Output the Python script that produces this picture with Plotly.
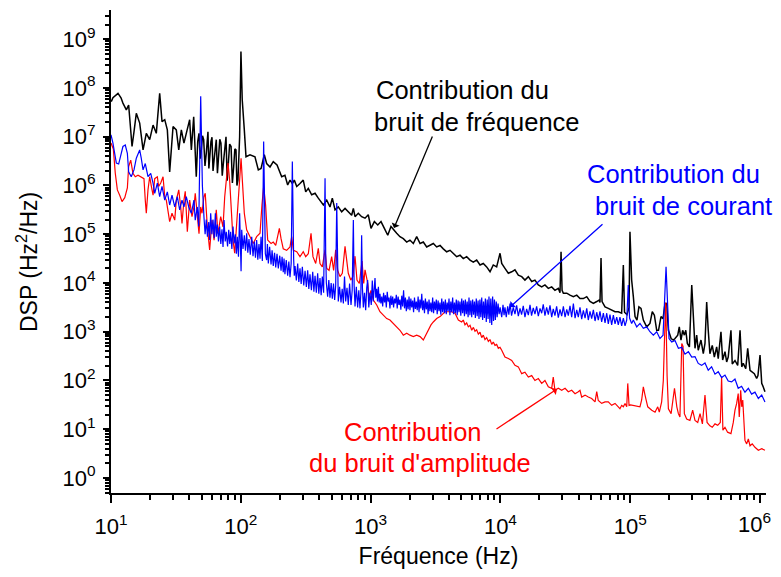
import numpy as np
import plotly.graph_objects as go

# ==============================================================================
# DONNÉES : (log10 fréquence [Hz], log10 DSP [Hz²/Hz])
# ==============================================================================
noir = [
    (1.002, 7.72), (1.015, 7.80), (1.054, 7.89), (1.077, 7.80), (1.092, 7.69), (1.118, 7.55),
    (1.136, 7.65), (1.162, 6.80), (1.177, 7.10), (1.195, 7.48), (1.221, 7.28), (1.247, 6.73),
    (1.272, 7.07), (1.298, 6.94), (1.324, 7.24), (1.349, 7.07), (1.375, 7.89), (1.393, 7.31),
    (1.414, 7.35), (1.434, 7.14), (1.452, 6.28), (1.478, 7.21), (1.503, 7.14), (1.522, 6.73),
    (1.542, 7.14), (1.562, 6.87), (1.580, 7.07), (1.606, 7.35), (1.619, 6.73), (1.637, 7.41),
    (1.657, 6.18), (1.668, 6.90), (1.678, 7.07), (1.687, 6.55), (1.696, 6.73), (1.705, 7.02),
    (1.714, 6.94), (1.724, 6.40), (1.734, 6.66), (1.747, 7.10), (1.754, 6.35), (1.760, 6.59),
    (1.770, 6.90), (1.778, 6.99), (1.786, 6.30), (1.794, 6.52), (1.803, 6.85), (1.811, 6.94),
    (1.820, 6.25), (1.830, 6.66), (1.838, 6.95), (1.847, 6.87), (1.857, 6.20), (1.868, 6.52),
    (1.877, 6.80), (1.886, 7.00), (1.895, 6.10), (1.904, 6.45), (1.914, 6.85), (1.925, 6.80),
    (1.935, 6.05), (1.945, 6.38), (1.954, 6.75), (1.963, 6.73), (1.970, 6.00), (1.978, 6.11),
    (1.985, 6.60), (1.991, 7.00), (2.001, 8.75), (2.011, 7.76), (2.027, 7.14), (2.040, 6.59),
    (2.071, 6.63), (2.109, 6.59), (2.135, 6.32), (2.156, 6.35), (2.181, 6.63), (2.199, 6.45),
    (2.225, 6.38), (2.250, 6.49), (2.279, 6.42), (2.315, 6.18), (2.340, 6.21), (2.361, 6.01),
    (2.379, 6.11), (2.397, 6.04), (2.412, 6.11), (2.431, 5.98), (2.456, 6.04), (2.481, 6.11),
    (2.500, 5.87), (2.520, 5.94), (2.546, 5.81), (2.572, 5.84), (2.597, 5.74), (2.618, 5.67),
    (2.636, 5.60), (2.662, 5.70), (2.687, 5.56), (2.705, 5.74), (2.726, 5.50), (2.751, 5.56),
    (2.777, 5.46), (2.803, 5.53), (2.828, 5.46), (2.854, 5.39), (2.867, 5.53), (2.880, 5.36),
    (2.905, 5.43), (2.931, 5.36), (2.957, 5.33), (2.982, 5.40), (3.003, 5.12), (3.029, 5.26),
    (3.055, 5.19), (3.080, 5.26), (3.106, 5.12), (3.132, 4.98), (3.157, 5.16), (3.183, 5.09),
    (3.201, 5.02), (3.226, 4.95), (3.252, 4.91), (3.278, 4.84), (3.303, 4.88), (3.329, 4.81),
    (3.355, 4.95), (3.381, 4.81), (3.406, 4.84), (3.432, 4.74), (3.458, 4.77), (3.483, 4.81),
    (3.509, 4.74), (3.535, 4.77), (3.560, 4.70), (3.586, 4.64), (3.612, 4.67), (3.637, 4.60),
    (3.663, 4.54), (3.689, 4.57), (3.714, 4.50), (3.740, 4.54), (3.766, 4.47), (3.791, 4.43),
    (3.817, 4.47), (3.843, 4.37), (3.868, 4.40), (3.894, 4.33), (3.920, 4.23), (3.945, 4.37),
    (3.971, 4.33), (3.997, 4.61), (4.010, 4.40), (4.035, 4.30), (4.061, 4.20), (4.087, 4.23),
    (4.112, 4.27), (4.138, 4.16), (4.164, 4.13), (4.189, 4.06), (4.215, 4.13), (4.241, 4.03),
    (4.266, 4.06), (4.292, 3.96), (4.318, 3.92), (4.343, 3.96), (4.369, 3.89), (4.395, 3.92),
    (4.420, 3.85), (4.446, 3.89), (4.459, 3.80), (4.467, 4.64), (4.475, 3.85), (4.485, 3.79),
    (4.511, 3.79), (4.536, 3.75), (4.562, 3.72), (4.588, 3.75), (4.613, 3.68), (4.639, 3.68),
    (4.665, 3.72), (4.690, 3.62), (4.716, 3.58), (4.742, 3.62), (4.760, 3.65), (4.767, 3.60),
    (4.775, 4.51), (4.783, 3.62), (4.806, 3.51), (4.831, 3.48), (4.857, 3.44), (4.883, 3.41),
    (4.908, 3.41), (4.934, 3.38), (4.947, 4.37), (4.956, 3.40), (4.975, 3.35), (4.991, 3.50),
    (4.998, 5.05), (5.011, 4.06), (5.024, 3.72), (5.037, 3.31), (5.052, 3.24), (5.067, 3.51),
    (5.083, 3.48), (5.101, 3.24), (5.127, 3.10), (5.152, 3.17), (5.170, 3.41), (5.186, 3.34),
    (5.204, 3.03), (5.218, 3.03), (5.237, 3.31), (5.253, 3.27), (5.268, 3.58), (5.281, 3.58),
    (5.294, 3.03), (5.315, 2.86), (5.332, 2.83), (5.345, 2.86), (5.366, 2.93), (5.378, 3.10),
    (5.391, 2.83), (5.404, 3.03), (5.417, 2.93), (5.428, 3.03), (5.440, 2.76), (5.456, 2.69),
    (5.474, 3.96), (5.486, 3.27), (5.499, 2.66), (5.512, 2.93), (5.524, 2.62), (5.545, 2.83),
    (5.563, 2.55), (5.576, 2.76), (5.589, 3.61), (5.601, 3.03), (5.614, 2.55), (5.632, 2.72),
    (5.648, 2.48), (5.666, 2.69), (5.678, 2.45), (5.699, 3.00), (5.712, 2.42), (5.730, 2.59),
    (5.743, 2.38), (5.755, 2.48), (5.776, 3.03), (5.786, 2.34), (5.807, 2.41), (5.828, 2.31),
    (5.846, 3.03), (5.859, 2.28), (5.871, 2.35), (5.890, 2.24), (5.905, 2.66), (5.923, 2.21),
    (5.940, 2.18), (5.956, 2.14), (5.974, 2.04), (5.984, 2.10), (6.000, 2.52), (6.013, 1.94),
    (6.023, 1.88), (6.038, 1.77),
]

bleu = [
    (1.000, 7.04), (1.015, 6.87), (1.041, 6.46), (1.059, 6.44), (1.092, 6.80), (1.110, 6.83),
    (1.126, 6.66), (1.136, 6.28), (1.156, 6.18), (1.177, 6.32), (1.195, 6.56), (1.221, 6.73),
    (1.233, 6.56), (1.247, 6.32), (1.264, 6.45), (1.285, 6.18), (1.306, 6.25), (1.324, 6.05),
    (1.337, 5.84), (1.357, 6.05), (1.375, 5.77), (1.393, 5.98), (1.414, 5.70), (1.434, 5.87),
    (1.452, 5.60), (1.470, 5.80), (1.491, 5.56), (1.511, 5.77), (1.529, 5.50), (1.547, 5.70),
    (1.562, 5.56), (1.580, 5.77), (1.599, 5.56), (1.619, 5.43), (1.639, 5.70), (1.649, 5.29),
    (1.665, 5.56), (1.676, 5.16), (1.691, 7.83), (1.704, 6.00), (1.716, 5.36), (1.725, 5.00),
    (1.734, 5.30), (1.743, 4.95), (1.753, 5.25), (1.760, 4.88), (1.768, 5.43), (1.777, 5.00),
    (1.786, 5.30), (1.795, 4.92), (1.804, 5.43), (1.811, 4.95), (1.819, 5.20), (1.828, 4.85),
    (1.837, 5.16), (1.846, 4.80), (1.855, 5.10), (1.863, 4.74), (1.871, 5.29), (1.880, 4.85),
    (1.888, 5.05), (1.898, 4.75), (1.907, 5.09), (1.915, 4.80), (1.922, 5.05), (1.931, 4.70),
    (1.940, 5.16), (1.949, 4.81), (1.958, 5.00), (1.966, 4.60), (1.973, 4.95), (1.982, 4.54),
    (1.991, 5.43), (1.997, 4.60), (2.002, 4.24), (2.007, 5.09), (2.017, 4.70), (2.027, 4.98),
    (2.036, 4.66), (2.045, 5.02), (2.054, 4.62), (2.063, 4.90), (2.073, 4.58), (2.084, 4.95),
    (2.094, 4.55), (2.104, 4.85), (2.113, 4.52), (2.122, 4.88), (2.131, 4.48), (2.140, 4.80),
    (2.148, 4.50), (2.156, 4.95), (2.166, 4.45), (2.176, 6.90), (2.183, 5.20), (2.189, 4.60),
    (2.199, 4.47), (2.205, 4.80), (2.212, 4.40), (2.222, 4.74), (2.233, 4.38), (2.241, 4.67),
    (2.250, 4.35), (2.260, 4.62), (2.269, 4.32), (2.279, 4.60), (2.289, 4.30), (2.300, 4.56),
    (2.310, 4.25), (2.318, 4.54), (2.327, 4.22), (2.333, 4.50), (2.340, 4.18), (2.350, 4.47),
    (2.361, 4.15), (2.370, 4.44), (2.379, 4.12), (2.388, 4.40), (2.397, 6.49), (2.402, 5.00),
    (2.407, 4.50), (2.412, 4.15), (2.418, 4.35), (2.428, 4.05), (2.438, 4.40), (2.447, 4.02),
    (2.456, 4.30), (2.465, 3.98), (2.474, 4.33), (2.485, 3.95), (2.495, 4.25), (2.505, 3.92),
    (2.515, 4.26), (2.524, 3.88), (2.533, 4.18), (2.544, 3.85), (2.554, 4.23), (2.563, 3.82),
    (2.572, 4.15), (2.582, 3.80), (2.592, 4.20), (2.601, 3.78), (2.610, 4.10), (2.619, 3.75),
    (2.628, 4.13), (2.638, 3.80), (2.649, 6.15), (2.654, 4.61), (2.659, 4.00), (2.669, 3.72),
    (2.678, 4.06), (2.687, 3.70), (2.696, 4.00), (2.705, 3.68), (2.714, 3.99), (2.723, 3.65),
    (2.731, 3.95), (2.739, 5.64), (2.745, 4.00), (2.751, 3.62), (2.761, 3.92), (2.772, 3.60),
    (2.781, 3.88), (2.790, 3.58), (2.799, 4.13), (2.808, 3.62), (2.818, 3.90), (2.828, 3.55),
    (2.838, 3.99), (2.849, 3.55), (2.858, 3.85), (2.867, 5.29), (2.873, 3.95), (2.880, 3.52),
    (2.890, 3.92), (2.900, 3.50), (2.909, 3.85), (2.918, 3.48), (2.925, 3.80), (2.931, 4.98),
    (2.937, 3.90), (2.944, 3.50), (2.953, 3.80), (2.962, 3.44), (2.970, 3.90), (2.977, 4.06),
    (2.986, 3.50), (2.995, 3.80), (3.005, 3.55), (3.013, 4.05), (3.020, 3.62), (3.028, 3.95),
    (3.034, 4.10), (3.040, 3.70), (3.047, 3.88), (3.053, 3.62), (3.060, 3.92), (3.066, 3.60),
    (3.072, 3.78), (3.079, 3.58), (3.086, 3.72), (3.093, 3.52), (3.100, 3.80), (3.107, 3.60),
    (3.114, 3.75), (3.121, 3.50), (3.128, 3.82), (3.135, 3.62), (3.142, 3.70), (3.149, 3.48),
    (3.156, 3.74), (3.163, 3.55), (3.170, 3.72), (3.177, 3.50), (3.184, 3.68), (3.191, 3.58),
    (3.198, 3.76), (3.205, 3.48), (3.212, 3.72), (3.219, 3.55), (3.226, 3.66), (3.233, 3.45),
    (3.240, 3.74), (3.247, 3.52), (3.254, 3.85), (3.261, 3.48), (3.268, 3.70), (3.275, 3.42),
    (3.282, 3.66), (3.289, 3.46), (3.296, 3.72), (3.303, 3.44), (3.310, 3.68), (3.317, 3.50),
    (3.324, 3.64), (3.331, 3.40), (3.338, 3.70), (3.345, 3.47), (3.352, 3.62), (3.359, 3.44),
    (3.366, 3.72), (3.373, 3.40), (3.380, 3.66), (3.387, 3.48), (3.394, 3.78), (3.401, 3.44),
    (3.408, 3.64), (3.415, 3.38), (3.422, 3.68), (3.429, 3.46), (3.436, 3.62), (3.443, 3.36),
    (3.450, 3.66), (3.457, 3.42), (3.464, 3.60), (3.471, 3.40), (3.478, 3.70), (3.485, 3.38),
    (3.492, 3.62), (3.499, 3.44), (3.506, 3.66), (3.513, 3.36), (3.520, 3.64), (3.527, 3.42),
    (3.534, 3.60), (3.541, 3.35), (3.548, 3.68), (3.555, 3.40), (3.562, 3.62), (3.569, 3.38),
    (3.576, 3.66), (3.583, 3.36), (3.590, 3.60), (3.597, 3.42), (3.604, 3.68), (3.611, 3.34),
    (3.618, 3.62), (3.625, 3.40), (3.632, 3.70), (3.639, 3.36), (3.646, 3.60), (3.653, 3.38),
    (3.660, 3.66), (3.667, 3.34), (3.674, 3.64), (3.681, 3.40), (3.688, 3.62), (3.695, 3.33),
    (3.702, 3.68), (3.709, 3.38), (3.716, 3.64), (3.723, 3.32), (3.730, 3.66), (3.737, 3.36),
    (3.744, 3.62), (3.751, 3.30), (3.758, 3.70), (3.765, 3.34), (3.772, 3.64), (3.779, 3.30),
    (3.786, 3.66), (3.793, 3.35), (3.800, 3.62), (3.807, 3.28), (3.814, 3.68), (3.821, 3.32),
    (3.828, 3.64), (3.835, 3.26), (3.842, 3.66), (3.849, 3.30), (3.856, 3.70), (3.863, 3.24),
    (3.870, 3.62), (3.877, 3.28), (3.884, 3.68), (3.891, 3.20), (3.898, 3.66), (3.905, 3.26),
    (3.912, 3.72), (3.919, 3.18), (3.926, 3.68), (3.933, 3.14), (3.940, 3.72), (3.947, 3.22),
    (3.954, 3.66), (3.961, 3.24), (3.968, 3.62), (3.975, 3.30), (3.982, 3.58), (3.990, 3.36),
    (3.998, 3.50), (4.002, 3.42), (4.010, 3.30), (4.020, 3.55), (4.028, 3.34), (4.035, 3.50),
    (4.045, 3.30), (4.056, 3.52), (4.065, 3.35), (4.074, 3.58), (4.086, 3.33), (4.099, 3.50),
    (4.112, 3.36), (4.125, 3.54), (4.138, 3.32), (4.151, 3.48), (4.163, 3.35), (4.176, 3.53),
    (4.189, 3.30), (4.202, 3.47), (4.215, 3.34), (4.228, 3.55), (4.240, 3.33), (4.253, 3.49),
    (4.266, 3.36), (4.279, 3.52), (4.292, 3.32), (4.305, 3.48), (4.318, 3.38), (4.330, 3.56),
    (4.343, 3.33), (4.356, 3.50), (4.369, 3.35), (4.382, 3.54), (4.395, 3.30), (4.407, 3.47),
    (4.420, 3.33), (4.433, 3.52), (4.446, 3.29), (4.459, 3.46), (4.472, 3.32), (4.485, 3.52),
    (4.498, 3.30), (4.511, 3.46), (4.523, 3.33), (4.536, 3.53), (4.549, 3.30), (4.562, 3.58),
    (4.575, 3.28), (4.588, 3.45), (4.600, 3.30), (4.613, 3.50), (4.626, 3.26), (4.639, 3.44),
    (4.652, 3.28), (4.665, 3.48), (4.677, 3.24), (4.690, 3.42), (4.703, 3.27), (4.716, 3.45),
    (4.729, 3.22), (4.742, 3.40), (4.754, 3.24), (4.767, 3.42), (4.780, 3.20), (4.793, 3.38),
    (4.806, 3.18), (4.819, 3.38), (4.831, 3.16), (4.844, 3.35), (4.857, 3.14), (4.870, 3.34),
    (4.883, 3.16), (4.896, 3.30), (4.908, 3.14), (4.921, 3.30), (4.934, 3.12), (4.947, 3.28),
    (4.960, 3.12), (4.973, 3.24), (4.985, 3.96), (4.995, 3.28), (5.011, 3.17), (5.024, 3.24),
    (5.050, 3.10), (5.075, 3.17), (5.101, 3.07), (5.127, 3.10), (5.152, 3.00), (5.178, 2.93),
    (5.204, 3.00), (5.229, 2.86), (5.253, 2.93), (5.276, 4.33), (5.289, 3.65), (5.299, 2.86),
    (5.320, 2.79), (5.345, 2.82), (5.371, 2.66), (5.397, 2.68), (5.422, 2.54), (5.448, 2.59),
    (5.474, 2.48), (5.499, 2.49), (5.524, 2.35), (5.550, 2.31), (5.576, 2.36), (5.601, 2.21),
    (5.627, 2.28), (5.653, 2.13), (5.678, 2.18), (5.704, 2.06), (5.730, 2.11), (5.755, 1.99),
    (5.781, 1.97), (5.807, 2.03), (5.832, 1.84), (5.858, 1.88), (5.884, 1.76), (5.910, 1.84),
    (5.935, 1.72), (5.961, 1.76), (5.987, 1.63), (6.013, 1.70), (6.038, 1.56),
]

rouge = [
    (1.000, 6.87), (1.018, 6.75), (1.033, 6.25), (1.049, 5.91), (1.067, 5.80), (1.085, 5.67),
    (1.106, 5.75), (1.126, 5.95), (1.136, 6.39), (1.152, 6.52), (1.169, 6.25), (1.187, 6.18),
    (1.208, 6.21), (1.233, 6.18), (1.254, 6.14), (1.264, 5.70), (1.272, 5.43), (1.285, 5.91),
    (1.298, 6.18), (1.311, 5.98), (1.324, 5.80), (1.337, 6.14), (1.357, 6.18), (1.367, 5.98),
    (1.383, 6.05), (1.401, 6.18), (1.414, 5.77), (1.426, 5.70), (1.439, 5.43), (1.452, 5.26),
    (1.470, 5.43), (1.491, 5.29), (1.503, 5.70), (1.522, 5.91), (1.537, 5.56), (1.547, 5.22),
    (1.562, 5.70), (1.572, 5.88), (1.588, 5.05), (1.606, 5.70), (1.624, 5.36), (1.639, 5.56),
    (1.649, 5.84), (1.665, 5.36), (1.678, 5.01), (1.691, 5.56), (1.701, 5.43), (1.716, 5.77),
    (1.726, 5.84), (1.742, 5.15), (1.760, 4.68), (1.778, 5.29), (1.794, 4.88), (1.811, 5.50),
    (1.824, 5.01), (1.845, 5.36), (1.863, 5.15), (1.876, 5.77), (1.891, 6.18), (1.901, 6.46),
    (1.914, 6.11), (1.927, 5.36), (1.940, 4.88), (1.953, 4.61), (1.966, 5.15), (1.981, 5.77),
    (1.994, 6.30), (2.002, 6.56), (2.012, 6.10), (2.027, 5.43), (2.045, 5.09), (2.071, 4.95),
    (2.096, 4.81), (2.122, 4.95), (2.148, 5.02), (2.163, 5.60), (2.176, 5.98), (2.191, 5.60),
    (2.207, 4.88), (2.233, 4.81), (2.250, 4.84), (2.269, 4.77), (2.284, 4.98), (2.297, 5.12),
    (2.310, 4.91), (2.327, 4.70), (2.353, 4.67), (2.379, 4.74), (2.392, 4.95), (2.405, 4.67),
    (2.431, 4.64), (2.456, 4.54), (2.481, 4.64), (2.500, 4.54), (2.520, 4.60), (2.541, 5.02),
    (2.556, 4.54), (2.577, 4.40), (2.597, 4.71), (2.610, 4.40), (2.628, 4.33), (2.649, 4.68),
    (2.662, 4.30), (2.680, 4.26), (2.700, 4.54), (2.715, 4.26), (2.731, 4.68), (2.746, 4.26),
    (2.764, 4.13), (2.782, 4.20), (2.803, 4.75), (2.828, 4.20), (2.847, 4.06), (2.864, 4.13),
    (2.880, 4.55), (2.895, 4.06), (2.913, 3.99), (2.934, 4.45), (2.947, 3.99), (2.957, 4.27),
    (2.978, 3.99), (2.988, 3.70), (3.003, 3.85), (3.021, 3.65), (3.047, 3.55), (3.072, 3.41),
    (3.098, 3.34), (3.124, 3.27), (3.149, 3.24), (3.175, 3.17), (3.201, 3.10), (3.226, 3.03),
    (3.252, 2.93), (3.278, 2.97), (3.303, 2.93), (3.329, 2.90), (3.355, 2.93), (3.381, 2.90),
    (3.406, 2.83), (3.424, 2.93), (3.444, 3.03), (3.465, 3.14), (3.483, 3.20), (3.509, 3.27),
    (3.535, 3.31), (3.573, 3.41), (3.598, 3.41), (3.624, 3.41), (3.650, 3.38), (3.676, 3.24),
    (3.701, 3.20), (3.714, 3.24), (3.727, 3.14), (3.740, 3.18), (3.753, 3.10), (3.766, 3.13),
    (3.779, 3.03), (3.792, 3.09), (3.804, 3.01), (3.817, 3.04), (3.830, 2.95), (3.843, 2.99),
    (3.856, 2.88), (3.868, 2.93), (3.881, 2.84), (3.894, 2.88), (3.907, 2.80), (3.920, 2.84),
    (3.933, 2.74), (3.945, 2.79), (3.958, 2.72), (3.971, 2.74), (3.984, 2.66), (3.997, 2.68),
    (4.010, 2.62), (4.035, 2.48), (4.061, 2.45), (4.087, 2.41), (4.112, 2.31), (4.138, 2.28),
    (4.164, 2.14), (4.189, 2.17), (4.215, 2.07), (4.241, 2.10), (4.266, 2.00), (4.292, 2.04),
    (4.318, 1.94), (4.343, 2.00), (4.369, 1.87), (4.395, 1.84), (4.407, 2.07), (4.420, 1.80),
    (4.446, 1.84), (4.472, 1.80), (4.498, 1.84), (4.523, 1.77), (4.549, 1.80), (4.575, 1.73),
    (4.600, 1.77), (4.613, 1.80), (4.626, 1.66), (4.652, 1.70), (4.677, 1.66), (4.703, 1.63),
    (4.729, 1.56), (4.742, 1.77), (4.754, 1.59), (4.780, 1.53), (4.806, 1.56), (4.831, 1.56),
    (4.857, 1.49), (4.883, 1.53), (4.908, 1.46), (4.921, 1.42), (4.934, 1.49), (4.947, 1.46),
    (4.960, 1.53), (4.973, 1.46), (4.981, 1.94), (4.991, 1.49), (5.003, 1.50), (5.022, 1.49),
    (5.050, 1.46), (5.075, 1.46), (5.088, 1.60), (5.101, 1.87), (5.114, 1.70), (5.135, 1.46),
    (5.166, 1.39), (5.191, 1.35), (5.212, 1.46), (5.224, 1.35), (5.242, 1.56), (5.255, 2.00),
    (5.263, 2.76), (5.274, 3.60), (5.284, 2.10), (5.294, 1.42), (5.315, 1.32), (5.341, 1.84),
    (5.359, 1.46), (5.371, 1.32), (5.383, 1.25), (5.397, 2.76), (5.407, 2.70), (5.417, 1.32),
    (5.435, 1.21), (5.460, 1.18), (5.481, 1.39), (5.499, 1.18), (5.520, 1.14), (5.538, 1.32),
    (5.556, 1.11), (5.576, 1.70), (5.592, 1.14), (5.614, 1.07), (5.632, 1.04), (5.653, 1.11),
    (5.674, 1.08), (5.694, 1.14), (5.704, 2.07), (5.714, 0.98), (5.730, 1.04), (5.750, 0.94),
    (5.776, 0.91), (5.794, 1.14), (5.807, 1.39), (5.820, 1.53), (5.832, 1.73), (5.840, 1.25),
    (5.851, 1.80), (5.859, 1.46), (5.867, 1.60), (5.877, 1.20), (5.884, 0.77), (5.897, 0.70),
    (5.910, 0.80), (5.923, 0.66), (5.940, 0.70), (5.961, 0.63), (5.987, 0.57), (6.013, 0.60),
    (6.038, 0.57),
]

# Graduations
DECADES_X = [1, 2, 3, 4, 5, 6]
DECADES_Y = [0, 1, 2, 3, 4, 5, 6, 7, 8, 9]

# ==============================================================================
# GÉOMÉTRIE (pixels de la page ; la page ajoute une marge de 8 px autour du graphe)
# ==============================================================================
PAGE_W, PAGE_H, BODY = 781, 577, 8
W, H = PAGE_W - 2 * BODY, PAGE_H - 2 * BODY
LEFT, RIGHT, TOP, BOTTOM = 111, 766, 10, 493
FONT = "Liberation Sans, Arial, sans-serif"


def px(x):
    return (x - LEFT) / (RIGHT - LEFT)


def py(y):
    return (BOTTOM - y) / (BOTTOM - TOP)


def spectre(points):
    lf, ld = zip(*points)
    return 10 ** np.array(lf), 10 ** np.array(ld)


fig = go.Figure()

for serie, couleur, largeur in [(noir, 'black', 1.5), (rouge, '#ff0000', 1.2), (bleu, '#0000ff', 1.2)]:
    f, dsp = spectre(serie)
    fig.add_trace(go.Scatter(
        x=f, y=dsp,
        mode='lines',
        line=dict(color=couleur, width=largeur),
        showlegend=False,
        hoverinfo='skip'
    ))

minor_x = [m * 10 ** d for d in range(1, 7) for m in range(2, 10)]
minor_y = [m * 10 ** d for d in range(-1, 10) for m in range(2, 10)]


def texte(x, y, s, couleur, xanchor='left'):
    fig.add_annotation(x=px(x), y=py(y), xref='paper', yref='paper', text=s,
                       showarrow=False, xanchor=xanchor, yanchor='middle',
                       font=dict(size=25.5, color=couleur, family=FONT))


def fleche(x0, y0, x1, y1, couleur):
    fig.add_annotation(x=px(x1), y=py(y1), xref='paper', yref='paper',
                       ax=x0 - x1, ay=y0 - y1, text='', showarrow=True,
                       arrowhead=1, arrowsize=1.1, arrowwidth=1.3, arrowcolor=couleur)


texte(374, 90, 'Contribution du', 'black')
texte(372, 122, 'bruit de fréquence', 'black')
fleche(433, 135, 394, 228, 'black')

texte(585, 174, 'Contribution du', '#0000ff')
texte(593, 206, 'bruit de courant', '#0000ff')
fleche(604, 223, 510, 307, '#0000ff')

texte(413, 432, 'Contribution', '#ff0000', 'center')
texte(420, 463, "du bruit d'amplitude", '#ff0000', 'center')
fleche(495, 430, 557, 389, '#ff0000')

fig.add_annotation(x=px(27), y=py(262), xref='paper', yref='paper',
                   text='DSP (Hz<sup>2</sup>/Hz)', textangle=-90, showarrow=False,
                   xanchor='center', yanchor='middle',
                   font=dict(size=23, color='black', family=FONT))

# dernière graduation x : posée en annotation, calée sur le bord droit pour rester visible
etiquettes_x = [f'10<sup>{d}</sup>' for d in DECADES_X]
fig.add_annotation(x=px(PAGE_W - BODY - 1), y=py(523), xref='paper', yref='paper',
                   text=etiquettes_x[-1], showarrow=False, xanchor='right', yanchor='middle',
                   borderpad=0, font=dict(size=22, color='black', family=FONT))
etiquettes_x[-1] = ''

fig.update_layout(
    width=W,
    height=H,
    margin=dict(l=LEFT - BODY, r=W - (RIGHT - BODY), t=TOP - BODY, b=H - (BOTTOM - BODY)),
    font=dict(family=FONT, size=22, color='black'),
    plot_bgcolor='white',
    paper_bgcolor='white',
    showlegend=False,
    xaxis=dict(
        type='log',
        range=[1, 6.046],
        automargin=False,
        title=dict(text='Fréquence (Hz)', font=dict(size=23), standoff=11),
        tickmode='array',
        tickvals=[10 ** d for d in DECADES_X],
        ticktext=etiquettes_x,
        ticks='outside', ticklen=8, tickwidth=2, tickcolor='black',
        ticklabelstandoff=5,
        minor=dict(tickmode='array', tickvals=minor_x, ticks='outside',
                   ticklen=5, tickwidth=1.5, tickcolor='black', showgrid=False),
        showline=True, linecolor='black', linewidth=2,
        showgrid=False, zeroline=False,
    ),
    yaxis=dict(
        type='log',
        range=[-0.308, 9.6],
        automargin=False,
        tickmode='array',
        tickvals=[10 ** d for d in DECADES_Y],
        ticktext=[f'10<sup>{d}</sup>' for d in DECADES_Y],
        ticks='outside', ticklen=6, tickwidth=2, tickcolor='black',
        ticklabelstandoff=3,
        minor=dict(tickmode='array', tickvals=minor_y, ticks='outside',
                   ticklen=4, tickwidth=1.5, tickcolor='black', showgrid=False),
        showline=True, linecolor='black', linewidth=2,
        showgrid=False, zeroline=False,
    ),
)

fig.write_html("out.html")
